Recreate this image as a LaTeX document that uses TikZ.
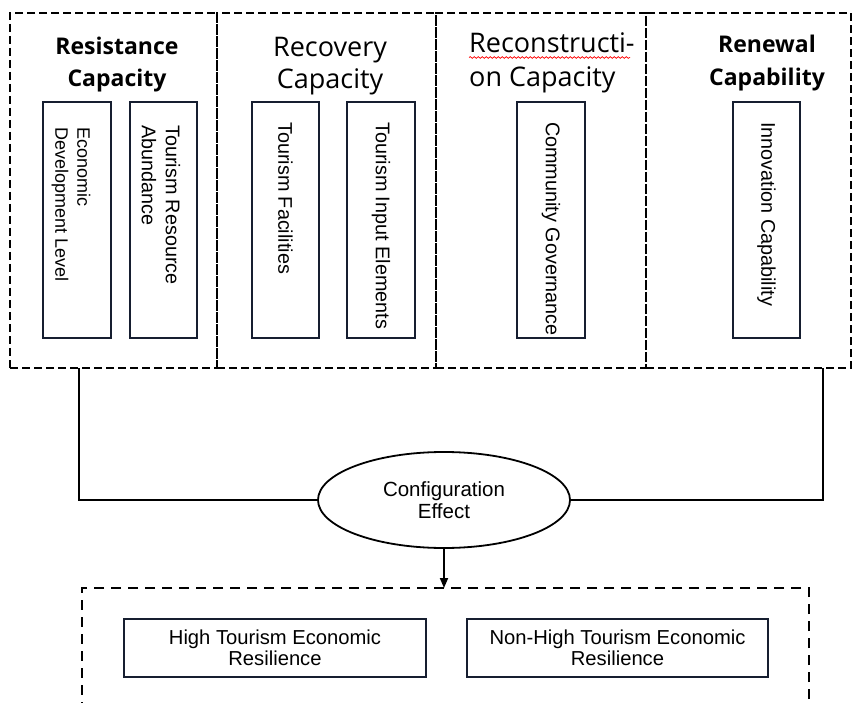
\documentclass[tikz,border=0pt]{standalone}
\usepackage{fontspec}
\setmainfont{Liberation Sans}
\newfontfamily\titlefont{Open Sans}
\usetikzlibrary{shapes.geometric,arrows.meta,decorations.pathmorphing}
\definecolor{boxc}{RGB}{22,30,48}
\begin{document}
\begin{tikzpicture}[x=1pt,y=-1pt,
  zone/.style={draw=black, dash pattern=on 8pt off 4pt, line width=1.6pt, inner sep=0, outer sep=0, anchor=north west},
  outzone/.style={draw=black, dash pattern=on 10pt off 7pt, line width=1.6pt, inner sep=0, outer sep=0, anchor=north west},
  item/.style={draw=boxc, line width=2pt, inner sep=0, outer sep=0, anchor=north west},
  vtext/.style={rotate=-90, anchor=west, inner sep=0, align=left, font=\fontsize{19.8}{24}\selectfont},
  ttl/.style={anchor=base, inner sep=0, align=center},
  wire/.style={draw=black, line width=1.8pt},
  btext/.style={align=center, font=\fontsize{20.2}{21}\selectfont}
]
\useasboundingbox (0,0) rectangle (853,703);
\clip (0,0) rectangle (853,703);
% zones
\node[zone, minimum width=207, minimum height=355] (res) at (10,13) {};
\node[zone, minimum width=219, minimum height=355] (rec) at (217,13) {};
\node[zone, minimum width=210, minimum height=355] (rcn) at (436,13) {};
\node[zone, minimum width=205, minimum height=355] (ren) at (646,13) {};
% titles (anchor = baseline of the last line)
\node[ttl, font=\titlefont\bfseries\fontsize{23}{32}\selectfont] (tres) at (117,87) {Resistance\\Capacity};
\node[ttl, font=\titlefont\fontsize{27}{32}\selectfont] (trec) at (330,89) {Recovery\\Capacity};
\node[ttl, anchor=base west, align=left, font=\titlefont\fontsize{27}{34}\selectfont] (trcn) at (469,87) {Reconstructi-\\on Capacity};
\node[ttl, font=\titlefont\bfseries\fontsize{23}{33}\selectfont] (tren) at (767,86) {Renewal\\Capability};
\draw[red, line width=0.7pt, decorate, decoration={snake, amplitude=0.9pt, segment length=4pt}] (469,57.5) -- (630,57.5);
% indicator boxes
\node[item, minimum width=68, minimum height=236] (b1) at (43,102) {};
\node[item, minimum width=67, minimum height=236] (b2) at (130,102) {};
\node[item, minimum width=67, minimum height=236] (b3) at (252,102) {};
\node[item, minimum width=68, minimum height=236] (b4) at (347,102) {};
\node[item, minimum width=68, minimum height=236] (b5) at (517,102) {};
\node[item, minimum width=67, minimum height=236] (b6) at (733,102) {};
\node[vtext, font=\fontsize{18}{22}\selectfont] (v1) at (71,127) {Economic\\Development Level};
\node[vtext, font=\fontsize{19.8}{24}\selectfont] (v2) at (161,125) {Tourism Resource\\Abundance};
\node[vtext] (v3) at (285.5,122) {Tourism Facilities};
\node[vtext] (v4) at (381,122) {Tourism Input Elements};
\node[vtext] (v5) at (551,122) {Community Governance};
\node[vtext] (v6) at (766.5,122) {Innovation Capability};
% configuration effect
\node[draw=black, line width=1.8pt, ellipse, minimum width=252, minimum height=96, inner sep=0, font=\fontsize{20.5}{22}\selectfont, align=center] (eff) at (444,500) {Configuration\\Effect};
\coordinate (lt) at (79,368);
\coordinate (rt) at (823,368);
\draw[wire] (lt) |- (eff.west);
\draw[wire] (rt) |- (eff.east);
% outcome zone
\node[outzone, minimum width=727, minimum height=200] (out) at (82,588) {};
\draw[wire, -{Triangle[length=10pt,width=8pt]}] (eff.south) -- (eff.south |- out.north);
\node[item, minimum width=302, minimum height=58, btext] (o1) at (124,619) {High Tourism Economic\\Resilience};
\node[item, minimum width=301, minimum height=58, btext] (o2) at (467,619) {Non-High Tourism Economic\\Resilience};
\end{tikzpicture}
\end{document}
